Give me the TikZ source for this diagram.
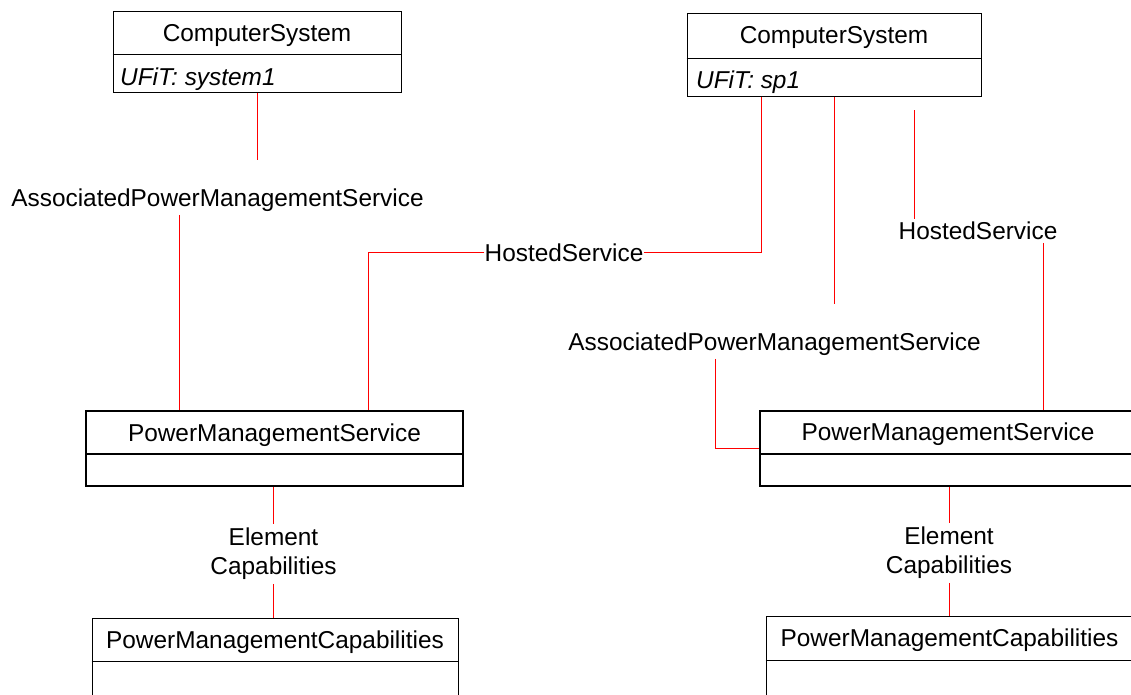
\documentclass[tikz,border=0pt]{standalone}
\usepackage{fontspec}
\setmainfont{Liberation Sans}
\usetikzlibrary{positioning}

\tikzset{
  classbox/.style={draw, line width=1pt, inner sep=0pt},
  svcbox/.style={classbox, line width=1.6pt},
  assoc/.style={draw=red, line width=1pt},
  lbl/.style={inner xsep=0pt, inner ysep=3pt},
}

\begin{document}
\begin{tikzpicture}[x=1pt, y=-1pt, font=\fontsize{24.4}{29}\selectfont]

  \useasboundingbox (0,0) rectangle (1131,694);
  \clip (0,0) rectangle (1131,694);

  \node[classbox, minimum width=288pt, minimum height=81pt] (csL) at (257,51.5) {};
  \node[anchor=base] (csLname) at (257,41.5) {ComputerSystem};
  \node[anchor=base west, inner sep=0pt] (csLattr) at (120,85) {\itshape UFiT: system1};
  \draw[classbox] (csL.west |- 0,54) -- (csL.east |- 0,54);

  \node[classbox, minimum width=294pt, minimum height=83pt] (csR) at (834,54.5) {};
  \node[anchor=base] (csRname) at (834,43.5) {ComputerSystem};
  \node[anchor=base west, inner sep=0pt] (csRattr) at (696,88.5) {\itshape UFiT: sp1};
  \draw[classbox] (csR.west |- 0,58) -- (csR.east |- 0,58);

  \node[svcbox, minimum width=377pt, minimum height=75pt] (pmsL) at (274.5,448.5) {};
  \node[anchor=base] (pmsLname) at (274.5,441.5) {PowerManagementService};
  \draw[svcbox] (pmsL.west |- 0,454) -- (pmsL.east |- 0,454);

  \node[svcbox, minimum width=376pt, minimum height=75pt] (pmsR) at (948,448.5) {};
  \node[anchor=base] (pmsRname) at (948,440.5) {PowerManagementService};
  \draw[svcbox] (pmsR.west |- 0,454) -- (pmsR.east |- 0,454);

  \node[classbox, minimum width=366pt, minimum height=92pt] (capL) at (275,664) {};
  \node[anchor=base] (capLname) at (275,648) {PowerManagementCapabilities};
  \draw[classbox] (capL.west |- 0,661) -- (capL.east |- 0,661);

  \node[classbox, minimum width=367pt, minimum height=94pt] (capR) at (949.5,663) {};
  \node[anchor=base] (capRname) at (949.5,646) {PowerManagementCapabilities};
  \draw[classbox] (capR.west |- 0,660) -- (capR.east |- 0,660);

  \node[lbl, anchor=base] (apmsL) at (217.5,206.5) {AssociatedPowerManagementService};
  \node[lbl, anchor=base] (hsL) at (564,261.5) {HostedService};
  \node[lbl, anchor=base] (apmsR) at (774.5,350.5) {AssociatedPowerManagementService};
  \node[lbl, anchor=base] (hsR) at (978,239.5) {HostedService};
  \node[lbl, align=center, inner ysep=4pt] (ecL) at (273.5,553.8) {Element\\Capabilities};
  \node[lbl, align=center, inner ysep=4pt] (ecR) at (949,552.8) {Element\\Capabilities};

  \coordinate (apmsLend) at (257,160);
  \coordinate (apmsRend) at (834,304);
  \coordinate (hsRtop) at (914,110);

  \draw[assoc] (csL.south) -- (apmsLend);
  \draw[assoc] (apmsL.south -| 179,0) -- (pmsL.north -| 179,0);
  \draw[assoc] (csR.south -| 761,0) |- (hsL.east);
  \draw[assoc] (hsL.west) -| (pmsL.north -| 368,0);
  \draw[assoc] (csR.south) -- (apmsRend);
  \draw[assoc] (apmsR.south -| 715,0) |- (pmsR.west);
  \draw[assoc] (hsRtop) -- (hsRtop |- hsR.north);
  \draw[assoc] (hsR.south -| 1043,0) -- (pmsR.north -| 1043,0);
  \draw[assoc] (pmsL.south -| ecL) -- (ecL.north);
  \draw[assoc] (ecL.south) -- (capL.north -| ecL);
  \draw[assoc] (pmsR.south -| ecR) -- (ecR.north);
  \draw[assoc] (ecR.south) -- (capR.north -| ecR);

\end{tikzpicture}
\end{document}
